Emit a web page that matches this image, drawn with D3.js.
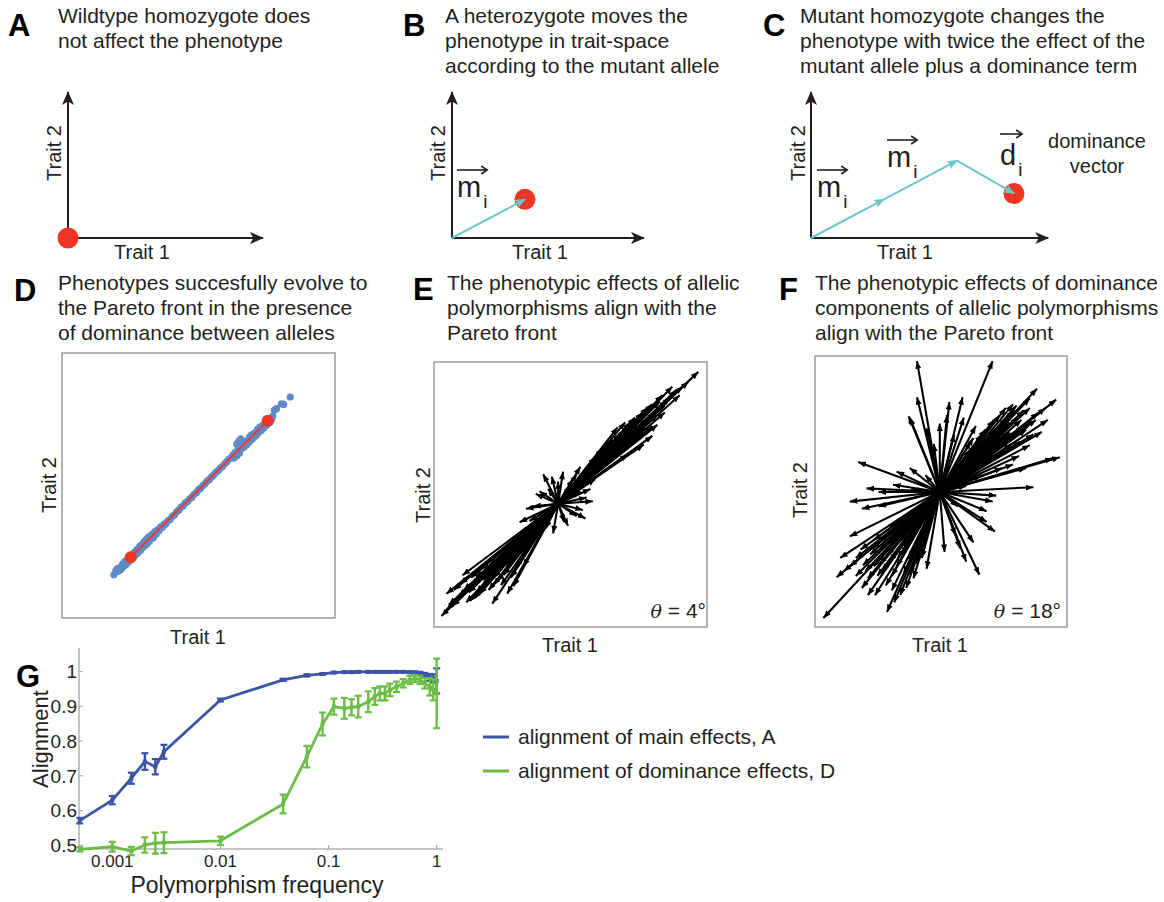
<!DOCTYPE html>
<html>
<head>
<meta charset="utf-8">
<script src="https://cdn.jsdelivr.net/npm/d3@7"></script>
<style>
  body { margin: 0; background: #fff; }
  svg { display: block; }
  text { font-family: "Liberation Sans", Arial, Helvetica, sans-serif; fill: #231f20; }
</style>
</head>
<body>
<svg id="fig" width="1164" height="902"></svg>
<script>
// ---------------- Panel G: alignment vs polymorphism frequency ----------------
const freqs = [0.0005, 0.001, 0.0015, 0.002, 0.0025, 0.003, 0.01, 0.038, 0.063, 0.088,
  0.112, 0.14, 0.163, 0.188, 0.233, 0.268, 0.298, 0.332, 0.369, 0.425,
  0.49, 0.565, 0.628, 0.70, 0.776, 0.863, 0.93, 1.0];
const alignMain = [0.571, 0.630, 0.693, 0.741, 0.726, 0.769, 0.918, 0.976, 0.989, 0.993,
  0.997, 0.998, 0.998, 0.999, 0.999, 0.999, 0.999, 0.999, 0.999, 0.999,
  0.999, 0.998, 0.997, 0.995, 0.990, 0.983, 0.980, 0.973];
const alignMainErr = [0.008, 0.012, 0.016, 0.024, 0.022, 0.020, 0.004, 0.003, 0.003, 0.002,
  0.002, 0.002, 0.002, 0.002, 0.002, 0.002, 0.002, 0.002, 0.002, 0.002,
  0.002, 0.002, 0.003, 0.004, 0.006, 0.010, 0.012, 0.036];
const alignDom = [0.4885, 0.496, 0.4836, 0.501, 0.506, 0.5075, 0.513, 0.619, 0.755, 0.849,
  0.899, 0.894, 0.897, 0.899, 0.913, 0.928, 0.937, 0.937, 0.947, 0.956,
  0.966, 0.976, 0.980, 0.976, 0.966, 0.956, 0.947, 0.937];
const alignDomErr = [0.006, 0.014, 0.012, 0.022, 0.030, 0.030, 0.012, 0.027, 0.031, 0.033,
  0.023, 0.030, 0.023, 0.031, 0.030, 0.024, 0.020, 0.020, 0.018, 0.015,
  0.012, 0.012, 0.010, 0.012, 0.015, 0.025, 0.030, 0.100];
const xTickVals = [0.001, 0.01, 0.1, 1];
const xTickLabels = ["0.001", "0.01", "0.1", "1"];
const yTickVals = [0.5, 0.6, 0.7, 0.8, 0.9, 1];
const yTickLabels = ["0.5", "0.6", "0.7", "0.8", "0.9", "1"];
const seriesNames = ["alignment of main effects, A", "alignment of dominance effects, D"];

// ---------------- Panels A-C: schematic allele effects ----------------
const mutantEffect = [1.0, 0.53];       // m_i
const dominanceEffect = [0.78, -0.45];  // d_i

// ---------------- Panel D: evolved phenotypes (Trait 1, Trait 2) ----------------
const phenotypes = [
  [0.190,0.163],[0.197,0.178],[0.203,0.186],[0.207,0.176],[0.212,0.190],[0.217,0.184],
  [0.222,0.203],[0.226,0.195],[0.231,0.214],[0.235,0.203],[0.240,0.221],[0.244,0.212],
  [0.249,0.232],[0.253,0.220],[0.258,0.240],[0.262,0.229],[0.266,0.249],[0.271,0.240],
  [0.275,0.258],[0.279,0.247],[0.284,0.266],[0.288,0.256],[0.292,0.276],[0.296,0.266],
  [0.300,0.287],[0.304,0.274],[0.308,0.296],[0.312,0.282],[0.316,0.304],[0.320,0.290],
  [0.324,0.311],[0.328,0.302],[0.332,0.318],[0.337,0.309],[0.341,0.326],[0.346,0.318],
  [0.351,0.334],[0.356,0.330],[0.362,0.344],[0.368,0.342],[0.374,0.354],[0.380,0.355],
  [0.388,0.367],[0.396,0.372],[0.404,0.384],[0.412,0.389],[0.420,0.401],[0.428,0.407],
  [0.436,0.418],[0.444,0.423],[0.452,0.435],[0.460,0.440],[0.468,0.450],[0.476,0.456],
  [0.484,0.467],[0.492,0.473],[0.500,0.484],[0.508,0.490],[0.516,0.500],[0.524,0.507],
  [0.532,0.517],[0.540,0.523],[0.548,0.533],[0.556,0.540],[0.564,0.550],[0.572,0.556],
  [0.580,0.566],[0.588,0.572],[0.596,0.582],[0.604,0.590],[0.612,0.600],[0.620,0.604],
  [0.626,0.616],[0.630,0.604],[0.635,0.625],[0.640,0.612],[0.645,0.634],[0.650,0.622],
  [0.654,0.646],[0.658,0.640],[0.662,0.650],[0.666,0.644],[0.670,0.664],[0.675,0.652],
  [0.680,0.670],[0.684,0.662],[0.688,0.684],[0.693,0.672],[0.698,0.692],[0.702,0.680],
  [0.707,0.700],[0.712,0.690],[0.716,0.712],[0.720,0.700],[0.725,0.720],[0.730,0.708],
  [0.735,0.727],[0.740,0.718],[0.745,0.736],[0.750,0.727],[0.756,0.745],[0.762,0.738],
  [0.768,0.750],[0.772,0.762],[0.778,0.785],[0.786,0.790],[0.804,0.808],[0.812,0.806],
  [0.836,0.834],[0.648,0.668],[0.655,0.676],[0.640,0.656],[0.229,0.197],[0.286,0.272],
  [0.310,0.278],[0.334,0.302],[0.694,0.690],[0.733,0.717],[0.760,0.752]
];
const paretoFront = [[0.2516, 0.229], [0.7535, 0.7445]];

// ---------------- Panel E: main effects of polymorphisms ----------------
const mainEffects = [
  [1.13,1.07],[1.05,0.99],[0.90,0.86],[0.82,0.83],[0.86,0.80],[0.76,0.81],[0.72,0.78],
  [0.76,0.63],[0.76,0.55],[0.69,0.48],[0.70,0.62],[0.64,0.66],[0.56,0.40],[0.60,0.58],
  [0.48,0.62],[0.50,0.57],[0.44,0.52],[0.40,0.43],[0.52,0.48],[0.36,0.45],[0.58,0.52],
  [0.66,0.58],[0.30,0.38],[0.18,0.30],[0.15,0.24],[0.62,0.70],[0.54,0.60],[0.46,0.46],
  [0.80,0.72],[0.72,0.68],[0.34,0.34],[0.26,0.30],[0.68,0.74],[0.58,0.66],[0.50,0.50],
  [0.42,0.48],[0.64,0.54],[0.86,0.74],[0.38,0.40],[0.30,0.32],
  [0.95,0.92],[0.98,0.88],[0.92,0.95],[0.84,0.88],[0.78,0.74],[0.74,0.70],[0.70,0.72],
  [0.66,0.64],[0.62,0.60],[0.58,0.56],[0.55,0.54],[0.52,0.56],[0.48,0.50],[0.44,0.44],
  [0.40,0.46],[0.36,0.38],[0.32,0.36],[0.28,0.28],[0.24,0.26],[0.20,0.22],[0.80,0.64],
  [0.70,0.58],[0.60,0.66],[0.54,0.66],[0.88,0.84],[1.00,0.95],
  [0.28,0.02],[0.23,0.05],[0.12,0.20],[-0.05,0.22],[0.05,-0.15],[-0.18,0.08],
  [-0.23,-0.14],[-0.31,-0.15],[0.15,-0.10],[-0.10,-0.20],[0.10,0.15],[-0.15,0.10],
  [0.20,-0.05],[0.00,0.18],[-0.08,0.12],[0.18,0.10],[0.08,-0.18],[-0.20,-0.02],
  [0.22,-0.12],[-0.12,0.24],[0.26,0.12],[-0.26,-0.04],[0.04,0.26],[-0.04,-0.24],
  [0.30,0.20],[-0.16,-0.26],
  [-0.77,-0.58],[-0.79,-0.65],[-0.90,-0.73],[-0.94,-0.91],[-0.85,-0.83],[-0.71,-0.79],
  [-0.53,-0.81],[-0.63,-0.73],[-0.41,-0.73],[-0.36,-0.67],[-0.28,-0.51],[-0.49,-0.63],
  [-0.60,-0.55],[-0.36,-0.38],[-0.15,-0.19],[-0.70,-0.66],[-0.66,-0.60],[-0.55,-0.50],
  [-0.45,-0.45],[-0.80,-0.75],[-0.58,-0.64],[-0.50,-0.56],[-0.40,-0.48],[-0.30,-0.35],
  [-0.72,-0.72],[-0.62,-0.68],[-0.44,-0.58],[-0.25,-0.30],[-0.84,-0.70],[-0.68,-0.77],
  [-0.52,-0.60],[-0.46,-0.52],[-0.38,-0.44],[-0.56,-0.70],[-0.64,-0.62],[-0.34,-0.52],
  [-0.88,-0.82],[-0.82,-0.78],[-0.76,-0.70],[-0.74,-0.80],[-0.66,-0.72],[-0.60,-0.62],
  [-0.56,-0.58],[-0.52,-0.66],[-0.48,-0.50],[-0.42,-0.52],[-0.38,-0.60],[-0.34,-0.42],
  [-0.30,-0.40],[-0.26,-0.36],[-0.22,-0.28],[-0.20,-0.24],[-0.90,-0.86],[-0.70,-0.60],
  [-0.64,-0.54],[-0.46,-0.66]
];

// ---------------- Panel F: dominance components of polymorphisms ----------------
const dominanceEffects = [
  [-0.19,1.09],[0.44,1.09],[0.19,0.79],[0.08,0.75],[0.06,0.64],[-0.19,0.79],[-0.26,0.63],
  [0.81,0.86],[0.97,0.77],[0.61,0.73],[0.75,0.78],[1.00,0.29],[0.94,0.28],[0.78,0.04],
  [0.75,0.39],[0.67,0.42],[0.44,-0.08],[0.39,-0.25],[0.46,-0.33],[0.33,-0.69],[0.22,-0.58],
  [0.04,-0.50],[0.13,-0.36],[-0.68,0.25],[-0.75,-0.08],[-0.51,0.00],[-0.39,0.06],
  [-0.51,-0.12],[-0.75,-0.37],[-0.83,-0.55],[-0.97,-1.05],[-0.86,-0.71],[-0.64,-0.61],
  [-0.44,-1.00],[-0.54,-0.86],[-0.33,-0.86],[-0.25,-0.69],[-0.11,-0.64],[-0.25,0.62],
  [-0.11,0.53],[0.00,0.57],[0.28,0.45],[0.39,0.50],[0.50,0.64],[0.56,0.47],[0.44,0.31],
  [0.61,0.23],[0.72,0.20],[0.35,0.14],[0.47,-0.03],[0.39,-0.16],[-0.65,-0.14],[-0.61,0.03],
  [-0.36,0.17],[-0.25,0.20],[-0.42,-0.30],[-0.56,-0.47],[-0.44,-0.53],[-0.33,-0.41],
  [0.55,0.70],[0.65,0.62],[0.70,0.55],[0.58,0.58],[0.50,0.55],[0.45,0.60],[0.62,0.50],
  [0.80,0.60],[0.85,0.50],[0.70,0.68],[0.52,0.42],[0.40,0.40],[0.35,0.48],[0.30,0.55],
  [0.60,0.40],[0.88,0.70],[0.25,0.35],[0.78,0.48],[0.28,-0.42],[0.17,-0.47],
  [-0.50,-0.60],[-0.60,-0.72],[-0.40,-0.70],[-0.70,-0.55],[-0.35,-0.55],[-0.55,-0.40],
  [-0.30,-0.45],[-0.45,-0.78],[-0.65,-0.80],[-0.20,-0.60],[-0.75,-0.62],[-0.38,-0.92],
  [-0.28,-0.80],[-0.52,-0.70],[0.20,0.62],[0.12,0.48],[-0.05,0.40],[0.66,0.30],[0.52,0.20],
  [0.75,0.70],[0.68,0.60],[0.62,0.68],[0.56,0.62],[0.72,0.52],[0.66,0.50],[0.58,0.50],
  [0.50,0.46],[0.46,0.52],[0.42,0.46],[0.38,0.52],[0.34,0.40],[0.48,0.38],[0.54,0.34],
  [0.82,0.66],[0.90,0.60],[0.76,0.58],[0.64,0.72],[0.32,0.30],[0.26,0.42],
  [-0.62,-0.66],[-0.55,-0.62],[-0.48,-0.66],[-0.42,-0.58],[-0.36,-0.62],[-0.58,-0.52],
  [-0.66,-0.48],[-0.50,-0.48],[-0.44,-0.44],[-0.32,-0.52],[-0.26,-0.56],[-0.70,-0.70],
  [-0.80,-0.66],[-0.40,-0.82],[-0.30,-0.68],[-0.60,-0.86],[-0.22,-0.72],[-0.15,-0.55],
  [0.18,0.20],[-0.20,-0.16],[0.15,-0.12],[-0.12,0.14],[0.22,0.05],[-0.24,0.02]
];

// ======================================================================
const svg = d3.select("#fig");
const INK = "#231f20";
const RED = "#ee3524";
const CYAN = "#6cc7ca";
const BLUE = "#3a55a6";
const GREEN = "#6cbd45";
const DOT = "#608ac6";

const defs = svg.append("defs");
// axis arrowhead for the schematics
defs.append("marker").attr("id", "axisHead")
  .attr("viewBox", "0 0 14 12").attr("refX", 13).attr("refY", 6)
  .attr("markerWidth", 14).attr("markerHeight", 12)
  .attr("markerUnits", "userSpaceOnUse").attr("orient", "auto")
  .append("path").attr("d", "M0,0 L14,6 L0,12 L3.5,6 Z").attr("fill", INK);
// cyan allele-vector head
defs.append("marker").attr("id", "vecHead")
  .attr("viewBox", "0 0 10 8").attr("refX", 9).attr("refY", 4)
  .attr("markerWidth", 11).attr("markerHeight", 9)
  .attr("markerUnits", "userSpaceOnUse").attr("orient", "auto")
  .append("path").attr("d", "M0,0 L10,4 L0,8 L2,4 Z").attr("fill", CYAN);
// small black quiver head
defs.append("marker").attr("id", "quiverHead")
  .attr("viewBox", "0 0 10 8").attr("refX", 10).attr("refY", 4)
  .attr("markerWidth", 8).attr("markerHeight", 6)
  .attr("markerUnits", "userSpaceOnUse").attr("orient", "auto")
  .append("path").attr("d", "M0,0 L10,4 L0,8 Z").attr("fill", "#000");

function panelLetter(x, y, s) {
  svg.append("text").attr("x", x).attr("y", y).text(s)
    .attr("font-size", 31).attr("font-weight", "bold").style("fill", "#000");
}
function title(x, y, lines) {
  svg.append("text").attr("x", x).attr("y", y).attr("font-size", 21)
    .selectAll("tspan").data(lines).join("tspan")
    .attr("x", x).attr("dy", (d, i) => i === 0 ? 0 : 25).text(d => d);
}
function xLabel(x, y, s, size = 20) {
  svg.append("text").attr("x", x).attr("y", y).attr("text-anchor", "middle")
    .attr("font-size", size).text(s);
}
function yLabel(x, y, s, size = 20) {
  svg.append("text").attr("transform", `translate(${x},${y}) rotate(-90)`)
    .attr("text-anchor", "middle").attr("font-size", size).text(s);
}

// ---------------- A, B, C schematics ----------------
const unit = d3.scaleLinear().domain([0, 1]).range([0, 73]);
function schematic(ox, oy, xLen, yLen) {
  const g = svg.append("g").attr("transform", `translate(${ox},${oy})`);
  const sx = d => unit(d), sy = d => -unit(d);
  g.append("line").attr("x1", 0).attr("y1", 0).attr("x2", sx(xLen)).attr("y2", 0)
    .attr("stroke", INK).attr("stroke-width", 2).attr("marker-end", "url(#axisHead)");
  g.append("line").attr("x1", 0).attr("y1", 0).attr("x2", 0).attr("y2", sy(yLen))
    .attr("stroke", INK).attr("stroke-width", 2).attr("marker-end", "url(#axisHead)");
  return { g, sx, sy };
}
function vecLabel(g, x, base, letter, gap) {
  const t = g.append("text").attr("x", x).attr("y", base).attr("font-size", 29).text(letter);
  const w = t.node().getComputedTextLength();
  g.append("text").attr("x", x + w + 2).attr("y", base + 11).attr("font-size", 19).text("i");
  const ay = base - gap, x2 = x + w + 6;
  g.append("line").attr("x1", x).attr("y1", ay).attr("x2", x2).attr("y2", ay)
    .attr("stroke", INK).attr("stroke-width", 1.6);
  g.append("path").attr("d", `M${x2 - 6},${ay - 4} L${x2},${ay} L${x2 - 6},${ay + 4}`)
    .attr("fill", "none").attr("stroke", INK).attr("stroke-width", 1.6);
}

// A
panelLetter(8, 36, "A");
title(58, 23, ["Wildtype homozygote does", "not affect the phenotype"]);
{
  const { g, sx, sy } = schematic(68, 238, 2.67, 2.0);
  g.append("circle").attr("cx", sx(0)).attr("cy", sy(0)).attr("r", 10.5).attr("fill", RED);
}
xLabel(142, 259, "Trait 1");
yLabel(61, 153, "Trait 2");

// B
panelLetter(403, 36, "B");
title(445, 23, ["A heterozygote moves the", "phenotype in trait-space", "according to the mutant allele"]);
{
  const { g, sx, sy } = schematic(452, 238, 2.63, 2.0);
  const [mx, my] = mutantEffect;
  g.append("circle").attr("cx", sx(mx)).attr("cy", sy(my)).attr("r", 10.5).attr("fill", RED);
  g.append("line").attr("x1", sx(0)).attr("y1", sy(0)).attr("x2", sx(mx)).attr("y2", sy(my))
    .attr("stroke", CYAN).attr("stroke-width", 2).attr("marker-end", "url(#vecHead)");
  vecLabel(g, 5, -41, "m", 27);
}
xLabel(540, 259, "Trait 1");
yLabel(445, 153, "Trait 2");

// C
panelLetter(763, 36, "C");
title(800, 23, ["Mutant homozygote changes the", "phenotype with twice the effect of the", "mutant allele plus a dominance term"]);
{
  const { g, sx, sy } = schematic(811, 238, 3.25, 2.0);
  const [mx, my] = mutantEffect, [dx, dy] = dominanceEffect;
  const p1 = [mx, my], p2 = [2 * mx, 2 * my], p3 = [2 * mx + dx, 2 * my + dy];
  g.append("circle").attr("cx", sx(p3[0])).attr("cy", sy(p3[1])).attr("r", 10.5).attr("fill", RED);
  [[[0, 0], p1], [p1, p2], [p2, p3]].forEach(([a, b]) => {
    g.append("line").attr("x1", sx(a[0])).attr("y1", sy(a[1])).attr("x2", sx(b[0])).attr("y2", sy(b[1]))
      .attr("stroke", CYAN).attr("stroke-width", 2).attr("marker-end", "url(#vecHead)");
  });
  vecLabel(g, 6, -41, "m", 27);
  vecLabel(g, 76, -71, "m", 27);
  vecLabel(g, 189, -73, "d", 31);
}
svg.append("text").attr("x", 1097).attr("y", 148).attr("text-anchor", "middle").attr("font-size", 20).text("dominance");
svg.append("text").attr("x", 1097).attr("y", 173).attr("text-anchor", "middle").attr("font-size", 20).text("vector");
xLabel(905, 259, "Trait 1");
yLabel(805, 153, "Trait 2");

// ---------------- D: phenotypes on the Pareto front ----------------
panelLetter(14, 301, "D");
title(58, 290, ["Phenotypes succesfully evolve to", "the Pareto front in the presence", "of dominance between alleles"]);
{
  const x = d3.scaleLinear().domain([0, 1]).range([62, 335]);
  const y = d3.scaleLinear().domain([0, 1]).range([618, 353]);
  svg.append("rect").attr("x", 62).attr("y", 353).attr("width", 273).attr("height", 265)
    .attr("fill", "none").attr("stroke", "#9a9a9a").attr("stroke-width", 1.5);
  svg.append("g").selectAll("circle").data(phenotypes).join("circle")
    .attr("cx", d => x(d[0])).attr("cy", d => y(d[1])).attr("r", 3.6)
    .attr("fill", DOT);
  svg.append("line").attr("x1", x(paretoFront[0][0])).attr("y1", y(paretoFront[0][1]))
    .attr("x2", x(paretoFront[1][0])).attr("y2", y(paretoFront[1][1]))
    .attr("stroke", "#e53b35").attr("stroke-width", 2);
  svg.append("g").selectAll("circle").data(paretoFront).join("circle")
    .attr("cx", d => x(d[0])).attr("cy", d => y(d[1])).attr("r", 6).attr("fill", RED);
}
xLabel(198, 644, "Trait 1");
yLabel(56, 485, "Trait 2");

// ---------------- E and F: quiver plots ----------------
function quiver(vectors, x, y, box) {
  svg.append("rect").attr("x", box[0]).attr("y", box[1]).attr("width", box[2]).attr("height", box[3])
    .attr("fill", "none").attr("stroke", "#9a9a9a").attr("stroke-width", 1.5);
  svg.append("g").selectAll("line").data(vectors).join("line")
    .attr("x1", x(0)).attr("y1", y(0))
    .attr("x2", d => x(d[0])).attr("y2", d => y(d[1]))
    .attr("stroke", "#000").attr("stroke-width", 2.1)
    .attr("marker-end", "url(#quiverHead)");
}
function thetaLabel(xr, base, deg) {
  const t = svg.append("text").attr("x", xr).attr("y", base).attr("text-anchor", "end").attr("font-size", 21);
  t.append("tspan").attr("font-family", "'DejaVu Serif', 'Liberation Serif', serif")
    .attr("font-style", "italic").attr("font-size", 19).text("θ");
  t.append("tspan").text(` = ${deg}°`);
}

panelLetter(413, 300, "E");
title(447, 290, ["The phenotypic effects of allelic", "polymorphisms align with the", "Pareto front"]);
quiver(mainEffects,
  d3.scaleLinear().domain([-1.0, 1.2]).range([434, 707]),
  d3.scaleLinear().domain([-1.0, 1.15]).range([627, 362]),
  [434, 362, 273, 265]);
thetaLabel(706, 618, 4);
xLabel(570, 652, "Trait 1");
yLabel(430, 495, "Trait 2");

panelLetter(779, 300, "F");
title(815, 290, ["The phenotypic effects of dominance", "components of allelic polymorphisms", "align with the Pareto front"]);
quiver(dominanceEffects,
  d3.scaleLinear().domain([-1.04, 1.06]).range([815, 1067]),
  d3.scaleLinear().domain([-1.125, 1.133]).range([627, 356]),
  [815, 356, 252, 271]);
thetaLabel(1061, 618, 18);
xLabel(940, 652, "Trait 1");
yLabel(807, 490, "Trait 2");

// ---------------- G: alignment curves ----------------
panelLetter(16, 687, "G");
{
  const x = d3.scaleLog().domain([0.000492, 1.144]).range([79, 443]);
  const y = d3.scaleLinear().domain([0.4894, 1.0676]).range([849, 648]);
  const axisColor = "#b0b0b0";
  svg.append("line").attr("x1", 79).attr("x2", 79).attr("y1", y.range()[1]).attr("y2", y.range()[0])
    .attr("stroke", axisColor).attr("stroke-width", 1.5);
  svg.append("line").attr("x1", 79).attr("x2", 443).attr("y1", 849).attr("y2", 849)
    .attr("stroke", axisColor).attr("stroke-width", 1.5);
  // ticks
  svg.append("g").selectAll("line").data(xTickVals).join("line")
    .attr("x1", d => x(d)).attr("x2", d => x(d)).attr("y1", 849).attr("y2", 845)
    .attr("stroke", axisColor).attr("stroke-width", 1.2);
  svg.append("g").selectAll("line").data(yTickVals).join("line")
    .attr("x1", 79).attr("x2", 83).attr("y1", d => y(d)).attr("y2", d => y(d))
    .attr("stroke", axisColor).attr("stroke-width", 1.2);
  svg.append("g").selectAll("text").data(xTickVals).join("text")
    .attr("x", d => x(d)).attr("y", 867).attr("text-anchor", "middle").attr("font-size", 17)
    .text((d, i) => xTickLabels[i]);
  svg.append("g").selectAll("text").data(yTickVals).join("text")
    .attr("x", 77).attr("y", d => y(d)).attr("dy", "0.36em").attr("text-anchor", "end").attr("font-size", 19)
    .text((d, i) => yTickLabels[i]);
  xLabel(257, 893, "Polymorphism frequency", 23);
  yLabel(48, 739, "Alignment", 22);

  const series = [
    { vals: alignMain, errs: alignMainErr, color: BLUE },
    { vals: alignDom, errs: alignDomErr, color: GREEN }
  ];
  const line = d3.line().x(d => x(d.f)).y(d => y(d.v));
  series.forEach(s => {
    const pts = freqs.map((f, i) => ({ f, v: s.vals[i], e: s.errs[i] }));
    const g = svg.append("g");
    g.append("path").datum(pts).attr("d", line).attr("fill", "none")
      .attr("stroke", s.color).attr("stroke-width", 2.8).attr("stroke-linejoin", "round");
    const eb = g.selectAll("g.eb").data(pts).join("g");
    eb.append("line").attr("x1", d => x(d.f)).attr("x2", d => x(d.f))
      .attr("y1", d => y(d.v - d.e)).attr("y2", d => y(d.v + d.e))
      .attr("stroke", s.color).attr("stroke-width", 2.4);
    [-1, 1].forEach(sgn => {
      eb.append("line").attr("x1", d => x(d.f) - 3.5).attr("x2", d => x(d.f) + 3.5)
        .attr("y1", d => y(d.v + sgn * d.e)).attr("y2", d => y(d.v + sgn * d.e))
        .attr("stroke", s.color).attr("stroke-width", 2.2);
    });
    eb.append("rect").attr("x", d => x(d.f) - 2).attr("y", d => y(d.v) - 2)
      .attr("width", 4).attr("height", 4).attr("fill", s.color);
  });

  // legend
  const lg = svg.append("g");
  series.forEach((s, i) => {
    const ly = 737 + i * 34;
    lg.append("line").attr("x1", 483).attr("x2", 509).attr("y1", ly).attr("y2", ly)
      .attr("stroke", s.color).attr("stroke-width", 3);
    lg.append("text").attr("x", 518).attr("y", ly).attr("dy", "0.35em").attr("font-size", 21)
      .text(seriesNames[i]);
  });
}
</script>
</body>
</html>
